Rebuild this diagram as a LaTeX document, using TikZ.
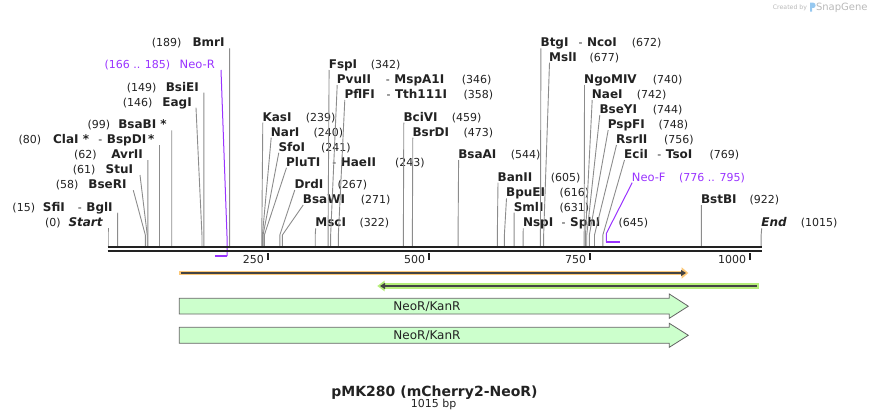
\documentclass[tikz,border=0pt]{standalone}
\usepackage{fontspec}
\setmainfont{DejaVu Sans}
\usetikzlibrary{positioning,arrows.meta}
\definecolor{cutgray}{RGB}{140,140,140}
\definecolor{neo}{RGB}{153,51,255}
\definecolor{orfglow}{RGB}{252,200,120}
\definecolor{grnglow}{RGB}{182,238,122}
\definecolor{featfill}{RGB}{204,255,204}
\definecolor{featedge}{RGB}{100,100,100}
\definecolor{mapline}{RGB}{34,34,34}
\definecolor{wmgray}{RGB}{185,185,185}
\definecolor{logoblue}{RGB}{150,200,240}
\newcommand{\enzdash}[1]{\hspace{#1pt}{\mdseries\fontsize{11}{13}\selectfont -}\hspace{4.5pt}}

\begin{document}
\begin{tikzpicture}[x=1pt, y=-1pt,
    enz/.style={inner sep=0pt, text=mapline, font=\fontsize{12}{14}\selectfont\bfseries},
    num/.style={inner sep=0pt, text=mapline, font=\fontsize{11}{13}\selectfont},
    neotext/.style={inner sep=0pt, text=neo, font=\fontsize{11.5}{13}\selectfont},
    siteline/.style={draw=cutgray, line width=0.9pt},
    primer/.style={draw=neo, line width=1pt},
    feat/.style={draw=featedge, fill=featfill, line width=0.8pt},
    feattext/.style={inner sep=0pt, text=mapline, font=\fontsize{12}{14}\selectfont},
    orfline/.style={draw=mapline!85, line width=1.7pt}]
    \useasboundingbox (0,0) rectangle (870,420);

    % Site coordinates on the map
    \foreach \b in {0,15,58,61,62,80,99,146,149,189,239,240,241,243,267,271,322,342,346,358,
                    459,473,544,605,616,631,645,672,677,740,742,744,748,756,769,922,1015}
        \coordinate (s\b) at ({108+0.6435*\b},246);

    % Labels right of their sites
    \node[enz, anchor=base west] (kasI) at (262.3,121.1) {KasI};
    \node[num, anchor=base west] (kasIn) at (305.7,121.1) {(239)};
    \node[enz, anchor=base west] (narI) at (270.7,136.1) {NarI};
    \node[num, anchor=base west] (narIn) at (313.3,136.1) {(240)};
    \node[enz, anchor=base west] (sfoI) at (278.3,151.1) {SfoI};
    \node[num, anchor=base west] (sfoIn) at (321,151.1) {(241)};
    \node[enz, anchor=base west] (pluTI) at (286,166.1) {PluTI\enzdash{12}HaeII};
    \node[num, anchor=base west] (pluTIn) at (395,166.1) {(243)};
    \node[enz, anchor=base west] (drdI) at (294.3,188.4) {DrdI};
    \node[num, anchor=base west] (drdIn) at (337.3,188.4) {(267)};
    \node[enz, anchor=base west] (bsaWI) at (302.7,203.4) {BsaWI};
    \node[num, anchor=base west] (bsaWIn) at (360.7,203.4) {(271)};
    \node[enz, anchor=base west] (mscI) at (315.2,226.7) {MscI};
    \node[num, anchor=base west] (mscIn) at (359.3,226.7) {(322)};
    \node[enz, anchor=base west] (fspI) at (328.6,68.4) {FspI};
    \node[num, anchor=base west] (fspIn) at (370.7,68.4) {(342)};
    \node[enz, anchor=base west] (pvuII) at (336.7,83.4) {PvuII\enzdash{15}MspA1I};
    \node[num, anchor=base west] (pvuIIn) at (461.7,83.4) {(346)};
    \node[enz, anchor=base west] (pflFI) at (344.3,98.4) {PflFI\enzdash{11.7}Tth111I};
    \node[num, anchor=base west] (pflFIn) at (463.3,98.4) {(358)};
    \node[enz, anchor=base west] (bciVI) at (403.3,121.1) {BciVI};
    \node[num, anchor=base west] (bciVIn) at (451.7,121.1) {(459)};
    \node[enz, anchor=base west] (bsrDI) at (412.3,136.1) {BsrDI};
    \node[num, anchor=base west] (bsrDIn) at (463.3,136.1) {(473)};
    \node[enz, anchor=base west] (bsaAI) at (458.1,158.4) {BsaAI};
    \node[num, anchor=base west] (bsaAIn) at (510.7,158.4) {(544)};
    \node[enz, anchor=base west] (banII) at (497.5,181.1) {BanII};
    \node[num, anchor=base west] (banIIn) at (550.7,181.1) {(605)};
    \node[enz, anchor=base west] (bpuEI) at (506,196.7) {BpuEI};
    \node[num, anchor=base west] (bpuEIn) at (559.3,196.7) {(616)};
    \node[enz, anchor=base west] (smlI) at (513.6,211.1) {SmlI};
    \node[num, anchor=base west] (smlIn) at (559.3,211.1) {(631)};
    \node[enz, anchor=base west] (nspI) at (522.8,226.7) {NspI\enzdash{8.5}SphI};
    \node[num, anchor=base west] (nspIn) at (618.3,226.7) {(645)};
    \node[enz, anchor=base west] (btgI) at (540.4,46.7) {BtgI\enzdash{10}NcoI};
    \node[num, anchor=base west] (btgIn) at (631.7,46.7) {(672)};
    \node[enz, anchor=base west] (mslI) at (549,61.1) {MslI};
    \node[num, anchor=base west] (mslIn) at (589.3,61.1) {(677)};
    \node[enz, anchor=base west] (ngoMIV) at (584,83.4) {NgoMIV};
    \node[num, anchor=base west] (ngoMIVn) at (652.7,83.4) {(740)};
    \node[enz, anchor=base west] (naeI) at (591.7,98.4) {NaeI};
    \node[num, anchor=base west] (naeIn) at (636.7,98.4) {(742)};
    \node[enz, anchor=base west] (bseYI) at (599.3,113.4) {BseYI};
    \node[num, anchor=base west] (bseYIn) at (652.7,113.4) {(744)};
    \node[enz, anchor=base west] (pspFI) at (607.7,128.4) {PspFI};
    \node[num, anchor=base west] (pspFIn) at (658.3,128.4) {(748)};
    \node[enz, anchor=base west] (rsrII) at (616,143.4) {RsrII};
    \node[num, anchor=base west] (rsrIIn) at (664,143.4) {(756)};
    \node[enz, anchor=base west] (eciI) at (624,158.4) {EciI\enzdash{9.4}TsoI};
    \node[num, anchor=base west] (eciIn) at (709.3,158.4) {(769)};
    \node[enz, anchor=base west] (bstBI) at (700.8,203.4) {BstBI};
    \node[num, anchor=base west] (bstBIn) at (749.3,203.4) {(922)};
    \node[enz, anchor=base west] (endL) at (761.2,226.7) {\textit{End}};
    \node[num, anchor=base west] (endLn) at (800.7,226.7) {(1015)};
    \node[neotext, anchor=base west] (neoF) at (631.7,181.1) {Neo-F};
    \node[num, text=neo, anchor=base west] (neoFn) at (679,181.1) {(776 .. 795)};

    % Labels left of their sites
    \node[enz, anchor=base east] (startL) at (103.2,226.2) {\textit{Start}};
    \node[num, anchor=base west] (startLn) at (45,226.2) {(0)};
    \node[enz, anchor=base east] (sfiI) at (112.9,211.1) {SfiI\enzdash{13}BglI};
    \node[num, anchor=base west] (sfiIn) at (12.3,211.1) {(15)};
    \node[enz, anchor=base east] (bseRI) at (126.7,188.7) {BseRI};
    \node[num, anchor=base west] (bseRIn) at (55.7,188.7) {(58)};
    \node[enz, anchor=base east] (stuI) at (133.3,173.4) {StuI};
    \node[num, anchor=base west] (stuIn) at (72.7,173.4) {(61)};
    \node[enz, anchor=base east] (avrII) at (143.1,158.4) {AvrII};
    \node[num, anchor=base west] (avrIIn) at (74,158.4) {(62)};
    \node[enz, anchor=base east] (claI) at (154.7,143.4) {ClaI *\enzdash{9.4}BspDI\,*};
    \node[num, anchor=base west] (claIn) at (18.3,143.4) {(80)};
    \node[enz, anchor=base east] (bsaBI) at (166.9,128.7) {BsaBI *};
    \node[num, anchor=base west] (bsaBIn) at (87.3,128.7) {(99)};
    \node[enz, anchor=base east] (eagI) at (192,106.1) {EagI};
    \node[num, anchor=base west] (eagIn) at (122.7,106.1) {(146)};
    \node[enz, anchor=base east] (bsiEI) at (199.1,91.1) {BsiEI};
    \node[num, anchor=base west] (bsiEIn) at (126.7,91.1) {(149)};
    \node[neotext, anchor=base east] (neoR) at (215,68.4) {Neo-R};
    \node[num, text=neo, anchor=base west] (neoRn) at (104.3,68.4) {(166 .. 185)};
    \node[enz, anchor=base east] (bmrI) at (224.8,46.7) {BmrI};
    \node[num, anchor=base west] (bmrIn) at (151.7,46.7) {(189)};

    % Connecting lines, right labels
    \foreach \s/\n in {239/kasI,240/narI,241/sfoI,243/pluTI,267/drdI,271/bsaWI,322/mscI,
                       342/fspI,346/pvuII,358/pflFI,459/bciVI,473/bsrDI,544/bsaAI,605/banII,
                       616/bpuEI,631/smlI,645/nspI,672/btgI,677/mslI,740/ngoMIV,742/naeI,
                       744/bseYI,748/pspFI,756/rsrII,769/eciI,922/bstBI,1015/endL}
        \draw[siteline] (s\s) -- ++(0,-11) -- ([shift={(0.5pt,-1.6pt)}]\n.base west);

    % Connecting lines, left labels
    \foreach \s/\n/\d in {0/startL/4.8,15/sfiI/4.8,58/bseRI/6.6,61/stuI/6.7,62/avrII/4.8,
                          80/claI/4.8,99/bsaBI/4.8,146/eagI/4,149/bsiEI/4.8,189/bmrI/4.8}
        \draw[siteline] (s\s) -- ++(0,-11) -- ([shift={(\d pt,-1.6pt)}]\n.base east);

    % Primers
    \coordinate (neoRend) at (227,256);
    \coordinate (neoFend) at (606.4,242.3);
    \draw[neo, line width=2pt] (214.8,256) -- (neoRend);
    \draw[neo, line width=2pt] (neoFend) -- (619.6,242.3);
    \draw[primer] (neoRend) -- ++(0,-20) -- ([shift={(6pt,-1.6pt)}]neoR.base east);
    \draw[primer] (neoFend) -- ++(0,-9) -- ([shift={(0.5pt,-1.6pt)}]neoF.base west);

    % Map
    \draw[mapline, line width=2.3pt] (107.7,247.2) -- (761.7,247.2);
    \draw[mapline, line width=2.3pt] (107.7,251.2) -- (761.7,251.2);
    \foreach \t/\x in {250/267.7,500/429,750/590,1000/750} {
        \draw[mapline, line width=1.7pt] (\x,253.3) -- (\x,259.5);
        \node[num, anchor=base east] (tick\t) at (\x-3.7,263.3) {\t};
    }

    % Open reading frames
    \fill[orfglow] (179.3,270.7) rectangle (682,275.3);
    \fill[orfglow] (681.7,267.3) -- (688.3,273) -- (681.7,278.7) -- cycle;
    \draw[orfline, -{Triangle[length=5pt, width=6pt]}] (180.7,273) -- (686,273);
    \fill[grnglow] (384.5,283.3) rectangle (759,288.7);
    \fill[grnglow] (384.5,280.7) -- (377.3,286) -- (384.5,291.3) -- cycle;
    \draw[orfline, -{Triangle[length=5pt, width=6pt]}] (756.7,286) -- (380,286);

    % Features
    \draw[feat] (179.3,298.3) -- (669.3,298.3) -- (669.3,294) -- (688.3,306.2)
        -- (669.3,318.3) -- (669.3,314) -- (179.3,314) -- cycle;
    \node[feattext, anchor=base] (neoKan1) at (427,310.2) {NeoR/KanR};
    \draw[feat] (179.3,327.3) -- (669.3,327.3) -- (669.3,323.3) -- (688.3,335.3)
        -- (669.3,347.3) -- (669.3,343.3) -- (179.3,343.3) -- cycle;
    \node[feattext, anchor=base] (neoKan2) at (427,339.3) {NeoR/KanR};

    % Title
    \node[inner sep=0pt, text=mapline, anchor=base, font=\fontsize{14}{16}\selectfont\bfseries]
        (title) at (434.5,396.3) {pMK280 (mCherry2-NeoR)};
    \node[num, anchor=base] (size) at (433.7,407.5) {1015 bp};

    % Watermark
    \node[inner sep=0pt, anchor=base west, text=wmgray, font=\fontsize{6.2}{7}\selectfont]
        (createdBy) at (772.7,10) {Created by};
    \fill[logoblue] (810,11.7) -- (810,2.7) -- (813.3,2.7) .. controls (816.3,2.7) and (816.3,8) .. (813.3,8)
        -- (812.2,8) -- (812.2,11.7) -- cycle;
    \node[inner sep=0pt, anchor=base west, text=wmgray, font=\fontsize{10}{12}\selectfont]
        (snapGene) at (815.8,10.7) {SnapGene};
\end{tikzpicture}
\end{document}
